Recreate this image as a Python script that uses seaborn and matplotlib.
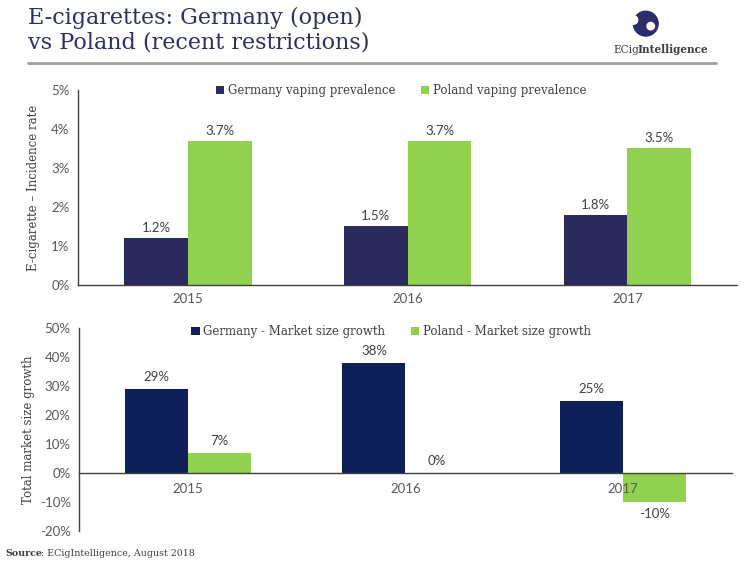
import pandas as pd
import seaborn as sns
import matplotlib.pyplot as plt
from matplotlib.patches import Circle
from matplotlib.ticker import FuncFormatter

# --- data ---
years = ['2015', '2016', '2017']
germany_vaping = [1.2, 1.5, 1.8]
poland_vaping = [3.7, 3.7, 3.5]
germany_growth = [29, 38, 25]
poland_growth = [7, 0, -10]

prev_names = ['Germany vaping prevalence', 'Poland vaping prevalence']
growth_names = ['Germany - Market size growth', 'Poland - Market size growth']

df_prev = pd.DataFrame({
    'year': years * 2,
    'value': germany_vaping + poland_vaping,
    'series': [prev_names[0]] * 3 + [prev_names[1]] * 3,
})
df_growth = pd.DataFrame({
    'year': years * 2,
    'value': germany_growth + poland_growth,
    'series': [growth_names[0]] * 3 + [growth_names[1]] * 3,
})

# --- style ---
sns.set_theme(style="white")
SERIF = ['DejaVu Serif']
SANS = ['Lato', 'DejaVu Sans']
plt.rcParams['font.family'] = SANS
TXT = '#404040'
NAVY_TITLE = '#2e3062'
GREEN = '#92d050'

fig = plt.figure(figsize=(7.5, 5.63), dpi=100)
ax1 = fig.add_axes([0.104, 0.4938, 0.879, 0.3464])
ax2 = fig.add_axes([0.1053, 0.0568, 0.8707, 0.3606])


def style_axis(ax, ylabel, leg_x, leg_y, labelpad):
    sns.despine(ax=ax)
    ax.set_axisbelow(False)  # keep tick labels above the bars
    for s in ['left', 'bottom']:
        ax.spines[s].set_color('#404040')
        ax.spines[s].set_linewidth(1.0)
    ax.tick_params(axis='both', length=0, labelsize=9.5, labelcolor='#595959', pad=6)
    ax.set_xlabel('')
    ax.set_ylabel(ylabel, family=SERIF, fontsize=8.5, color=TXT, labelpad=labelpad)
    ax.legend(loc='upper center', bbox_to_anchor=(leg_x, leg_y), ncol=2, frameon=False,
              prop={'family': SERIF, 'size': 8.5}, labelcolor=TXT,
              handlelength=0.7, handleheight=0.7, handletextpad=0.3, columnspacing=2.2)


# --- top panel: prevalence ---
sns.barplot(data=df_prev, x='year', y='value', hue='series', width=0.58,
            palette={prev_names[0]: '#2a2a5c', prev_names[1]: GREEN},
            saturation=1, linewidth=0, ax=ax1)
ax1.set_ylim(0, 5)
ax1.set_yticks(range(0, 6))
ax1.yaxis.set_major_formatter(FuncFormatter(lambda v, p: f'{v:.0f}%'))
style_axis(ax1, 'E-cigarette – Incidence rate', 0.49, 1.085, 8)
for c in ax1.containers:
    ax1.bar_label(c, labels=[f'{b.get_height():.1f}%' for b in c], padding=3,
                  fontsize=9.5, color=TXT)

# --- bottom panel: market growth ---
sns.barplot(data=df_growth, x='year', y='value', hue='series', width=0.58,
            palette={growth_names[0]: '#0e1f5a', growth_names[1]: GREEN},
            saturation=1, linewidth=0, ax=ax2)
ax2.set_ylim(-20, 50)
ax2.set_yticks(range(-20, 60, 10))
ax2.yaxis.set_major_formatter(FuncFormatter(lambda v, p: f'{v:.0f}%'))
style_axis(ax2, 'Total market size growth', 0.478, 1.065, 3)
ax2.spines['bottom'].set_position(('data', 0))
ax2.tick_params(axis='x', pad=7)
for c in ax2.containers:
    ax2.bar_label(c, labels=[f'{b.get_height() if b.get_y() >= 0 else b.get_y():.0f}%' for b in c],
                  padding=4, fontsize=9.5, color=TXT)

# --- header ---
fig.text(0.038, 0.905, 'E-cigarettes: Germany (open)\nvs Poland (recent restrictions)',
         family=SERIF, fontsize=16, color=NAVY_TITLE, linespacing=1.15, va='bottom')
fig.add_artist(plt.Line2D([0.037, 0.955], [0.888, 0.888], color='#a0a0a0', lw=2))

# logo
lax = fig.add_axes([0.836, 0.925, 0.05, 0.066])
lax.set_xlim(-1.5, 1.5)
lax.set_ylim(-1.5, 1.5)
lax.set_aspect('equal')
lax.axis('off')
lax.add_patch(Circle((0, 0), 1.0, color='#2e2d6b'))
lax.add_patch(Circle((0.4, -0.2), 0.3, color='white'))
lax.add_patch(Circle((-1.0, 0.3), 0.35, color='white'))
t_logo = fig.text(0.818, 0.905, 'ECig', family=SERIF, fontsize=7.6, color='#404040')
ax2.annotate('Intelligence', xy=(1, 0), xycoords=t_logo, xytext=(-1.5, 0),
             textcoords='offset points', va='bottom', ha='left',
             family=SERIF, fontsize=7.6, color='#404040', fontweight='bold',
             annotation_clip=False)

# source
t_src = fig.text(0.007, 0.013, 'Source', family=SERIF, fontsize=6.8, color='#404040',
                 fontweight='bold')
ax2.annotate(': ECigIntelligence, August 2018', xy=(1, 0), xycoords=t_src,
             xytext=(-0.5, 0), textcoords='offset points',
             va='bottom', ha='left', family=SERIF, fontsize=6.8, color='#404040',
             annotation_clip=False)

fig.savefig('out.png', dpi=100)
